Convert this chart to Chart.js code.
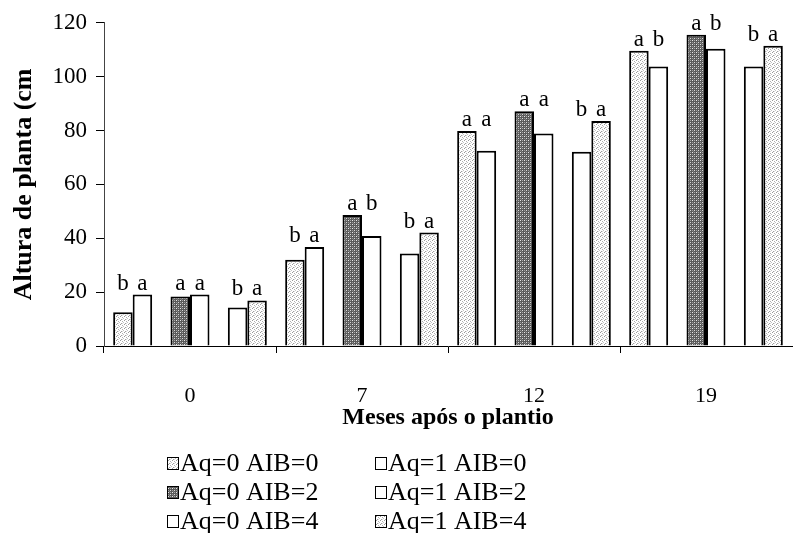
<!DOCTYPE html>
<html>
<head>
<meta charset="utf-8">
<script src="https://cdn.jsdelivr.net/npm/chart.js@4.4.1/dist/chart.umd.min.js"></script>
<style>
  html, body { margin: 0; padding: 0; background: #fff; }
  #wrap { width: 794px; height: 533px; }
</style>
</head>
<body>
<div id="wrap"><canvas id="chart"></canvas></div>
<script>
  const months = ['0', '7', '12', '19'];
  const seriesLabels = ['Aq=0 AIB=0', 'Aq=1 AIB=0', 'Aq=0 AIB=2', 'Aq=1 AIB=2', 'Aq=0 AIB=4', 'Aq=1 AIB=4'];

  // altura (cm) por mes, uma lista por tratamento
  const aq0aib0 = [12.5, 32.0, 79.8, 109.6];
  const aq1aib0 = [19.1, 36.8, 72.5, 103.8];
  const aq0aib2 = [18.4, 48.6, 87.2, 115.6];
  const aq1aib2 = [19.1, 40.8, 78.9, 110.4];
  const aq0aib4 = [14.3, 34.3, 72.1, 103.8];
  const aq1aib4 = [16.9, 42.1, 83.5, 111.5];

  // letras de significancia sobre cada barra
  const lettersAq0aib0 = ['b', 'b', 'a', 'a'];
  const lettersAq1aib0 = ['a', 'a', 'a', 'b'];
  const lettersAq0aib2 = ['a', 'a', 'a', 'a'];
  const lettersAq1aib2 = ['a', 'b', 'a', 'b'];
  const lettersAq0aib4 = ['b', 'b', 'b', 'b'];
  const lettersAq1aib4 = ['a', 'a', 'a', 'a'];

  const yTicks = [0, 20, 40, 60, 80, 100, 120];

  const values = [aq0aib0, aq1aib0, aq0aib2, aq1aib2, aq0aib4, aq1aib4];
  const letters = [lettersAq0aib0, lettersAq1aib0, lettersAq0aib2, lettersAq1aib2, lettersAq0aib4, lettersAq1aib4];

  function makePattern(base, dots) {
    const c = document.createElement('canvas');
    c.width = 4; c.height = 4;
    const g = c.getContext('2d');
    g.fillStyle = base;
    g.fillRect(0, 0, 4, 4);
    dots.forEach(d => {
      g.fillStyle = d[2];
      g.fillRect(d[0], d[1], 1, 1);
    });
    return document.createElement('canvas').getContext('2d').createPattern(c, 'repeat');
  }

  const lightDots = makePattern('#ffffff', [[0, 0, '#9a9a9a'], [2, 1, '#b0b0b0'], [1, 3, '#a0a0a0'], [3, 2, '#c4c4c4'], [2, 3, '#dddddd']]);
  const darkDots = makePattern('#5a5a5a', [[0, 0, '#e8e8e8'], [2, 2, '#d8d8d8'], [0, 2, '#9a9a9a'], [2, 0, '#a8a8a8'], [1, 3, '#7a7a7a']]);
  const fills = [lightDots, '#ffffff', darkDots, '#ffffff', '#ffffff', lightDots];

  // 3 pares por mes; cada par ocupa uma categoria
  const slots = [];
  months.forEach(m => { slots.push(''); slots.push(m); slots.push(''); });

  const datasets = values.map((vals, i) => {
    const pair = Math.floor(i / 2);
    const data = slots.map(() => null);
    vals.forEach((v, g) => { data[g * 3 + pair] = v; });
    return {
      label: seriesLabels[i],
      data,
      backgroundColor: fills[i],
      borderColor: '#000',
      borderWidth: 2,
      categoryPercentage: 0.68,
      barPercentage: 1
    };
  });

  const letterPlugin = {
    id: 'letters',
    afterDatasetsDraw(chart) {
      const ctx = chart.ctx;
      ctx.save();
      ctx.font = "23px 'Liberation Serif'";
      ctx.fillStyle = '#000';
      ctx.textAlign = 'center';
      ctx.textBaseline = 'alphabetic';
      for (let p = 0; p < 3; p++) {
        const left = chart.getDatasetMeta(2 * p);
        const right = chart.getDatasetMeta(2 * p + 1);
        months.forEach((m, g) => {
          const slot = g * 3 + p;
          const a = left.data[slot], b = right.data[slot];
          const top = Math.min(a.y, b.y) - 5;
          ctx.fillText(letters[2 * p][g], a.x, top);
          ctx.fillText(letters[2 * p + 1][g], b.x, top);
        });
      }
      ctx.restore();
    }
  };

  const legendPlugin = {
    id: 'twoColLegend',
    afterDraw(chart) {
      const ctx = chart.ctx;
      ctx.save();
      ctx.font = "26px 'Liberation Serif'";
      ctx.textBaseline = 'middle';
      ctx.textAlign = 'left';
      chart.data.datasets.forEach((ds, i) => {
        const x = 167 + (i % 2) * 208;
        const y = 463 + Math.floor(i / 2) * 29;
        ctx.fillStyle = ds.backgroundColor;
        ctx.fillRect(x, y - 6, 12, 13);
        ctx.strokeStyle = '#000';
        ctx.lineWidth = 1;
        ctx.strokeRect(x + 0.5, y - 5.5, 11, 12);
        ctx.fillStyle = '#000';
        ctx.fillText(ds.label, x + 13, y + 1);
      });
      ctx.restore();
    }
  };

  Chart.defaults.font.family = "'Liberation Serif', 'Times New Roman', serif";
  Chart.defaults.color = '#000';

  new Chart(document.getElementById('chart'), {
    type: 'bar',
    data: { labels: slots, datasets },
    options: {
      responsive: true,
      maintainAspectRatio: false,
      animation: false,
      skipNull: true,
      layout: { padding: { top: 20, right: 2, left: 0, bottom: 97 } },
      plugins: {
        legend: { display: false },
        tooltip: { enabled: false }
      },
      scales: {
        x: {
          afterFit: scale => { scale.height = 90; },
          grid: {
            drawOnChartArea: false,
            tickLength: 7,
            color: c => (c.index % 3 === 0 ? '#000' : 'rgba(0,0,0,0)')
          },
          border: { color: '#000', width: 1 },
          ticks: { autoSkip: false, maxRotation: 0, padding: 30, font: { size: 22 } },
          title: {
            display: true,
            text: 'Meses após o plantio',
            font: { size: 24, weight: 'bold' },
            padding: { top: 0, bottom: 4 }
          }
        },
        y: {
          min: 0,
          max: 120,
          afterFit: scale => { scale.width = 104; },
          afterBuildTicks: scale => { scale.ticks = yTicks.map(v => ({ value: v })); },
          grid: { drawOnChartArea: false, tickLength: 8, color: '#000' },
          border: { color: '#444', width: 1 },
          ticks: { padding: 9, font: { size: 23 } },
          title: {
            display: true,
            text: 'Altura de planta (cm',
            font: { size: 26, weight: 'bold' },
            padding: { top: 9, bottom: 0 }
          }
        }
      }
    },
    plugins: [letterPlugin, legendPlugin]
  });
</script>
</body>
</html>
